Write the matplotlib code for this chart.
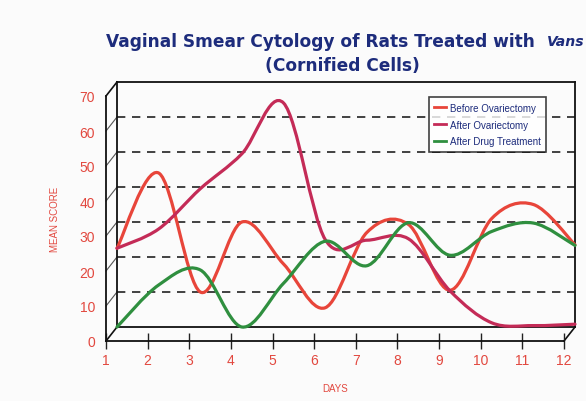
import matplotlib
matplotlib.use("Agg")
import matplotlib.pyplot as plt
from matplotlib.path import Path
from matplotlib.patches import PathPatch
from matplotlib.lines import Line2D

# ---- data ----
days = [1, 2, 3, 4, 5, 6, 7, 8, 9, 10, 11, 12]
before_ovx = [22.5, 44, 10, 30, 18, 5.5, 27, 29.3, 10.5, 31, 35, 23.5]
after_ovx = [22.5, 28, 39.5, 49.5, 64, 25, 24.8, 25.2, 10.3, 1.2, 0.4, 0.8]
after_drug = [0, 12, 16.3, 0, 12.5, 24.5, 17.5, 29.8, 20.5, 27.3, 29.7, 23.3]
series_labels = ["Before Ovariectomy", "After Ovariectomy", "After Drug Treatment"]
y_ticks = [0, 10, 20, 30, 40, 50, 60, 70]
title_line1 = "Vaginal Smear Cytology of Rats Treated with"
title_tail = "Vans"
title_line2 = "(Cornified Cells)"
x_label = "DAYS"
y_label = "MEAN SCORE"

colors = ["#e8453a", "#c42b57", "#2f8f3f"]
red_txt = "#e2483f"
navy = "#1d2c7c"

W, H = 586, 402
fig = plt.figure(figsize=(W / 100, H / 100), dpi=100)
fig.patch.set_facecolor("#fbfbfb")

# back wall (data plane) and front (axis) plane, offset to fake 3-D
bl, br, bt, bb = 117, 575, 83, 328
dx, dy = -11, 14
ax = fig.add_axes([bl / W, 1 - bb / H, (br - bl) / W, (bb - bt) / H])
axf = fig.add_axes([(bl + dx) / W, 1 - (bb + dy) / H, (br - bl) / W, (bb - bt) / H])
for a in (ax, axf):
    a.set_xlim(days[0], days[-1])
    a.set_ylim(y_ticks[0], y_ticks[-1])
    a.patch.set_alpha(0)
ax.set_zorder(3)
axf.set_zorder(2)

# back wall
for s in ax.spines.values():
    s.set_color("#111111")
    s.set_linewidth(1.3)
ax.set_xticks([])
ax.set_yticks([])
for v in y_ticks[1:-1]:
    ax.axhline(v, color="#222222", lw=1.2, ls=(0, (5, 4)), zorder=1)

# front axes
axf.spines["top"].set_visible(False)
axf.spines["right"].set_visible(False)
for s in ("left", "bottom"):
    axf.spines[s].set_color("#111111")
    axf.spines[s].set_linewidth(1.3)
axf.set_xticks(days)
axf.set_xticklabels([str(d) for d in days])
axf.set_yticks(y_ticks)
axf.set_yticklabels([str(v) for v in y_ticks])
axf.tick_params(axis="x", direction="inout", length=12, width=1.0, color="#222222",
                labelcolor=red_txt, labelsize=10, pad=3)
axf.tick_params(axis="y", length=0, labelcolor=red_txt, labelsize=10, pad=8)
for lab in axf.get_xticklabels() + axf.get_yticklabels():
    lab.set_family("Liberation Sans")
axf.set_xlabel(x_label, color=red_txt, fontsize=7, family="Liberation Sans", labelpad=11)
axf.set_ylabel(y_label, color=red_txt, fontsize=7, family="Liberation Sans", labelpad=14)


def to_fig(a, pt):
    p = a.transData.transform(pt)
    return fig.transFigure.inverted().transform(p)


def fig_line(p0, p1, **kw):
    fig.add_artist(Line2D([p0[0], p1[0]], [p0[1], p1[1]], transform=fig.transFigure, **kw))


# 3-D connectors
fig_line(to_fig(axf, (days[0], y_ticks[-1])), to_fig(ax, (days[0], y_ticks[-1])), color="#111111", lw=1.2)
fig_line(to_fig(axf, (days[0], 0)), to_fig(ax, (days[0], 0)), color="#111111", lw=1.2)
fig_line(to_fig(axf, (days[-1], 0)), to_fig(ax, (days[-1], 0)), color="#111111", lw=1.2)
for v in y_ticks[1:-1]:
    fig_line(to_fig(axf, (days[0], v)), to_fig(ax, (days[0], v)), color="#555555", lw=0.8)


# smoothed lines (Catmull-Rom style Bezier, as spreadsheet "smoothed line")
def smooth_path(xs, ys):
    pts = list(zip(xs, ys))
    n = len(pts)
    verts = [pts[0]]
    codes = [Path.MOVETO]
    for i in range(n - 1):
        p0 = pts[i - 1] if i > 0 else pts[i]
        p1 = pts[i]
        p2 = pts[i + 1]
        p3 = pts[i + 2] if i + 2 < n else pts[i + 1]
        c1 = (p1[0] + (p2[0] - p0[0]) / 6, p1[1] + (p2[1] - p0[1]) / 6)
        c2 = (p2[0] - (p3[0] - p1[0]) / 6, p2[1] - (p3[1] - p1[1]) / 6)
        verts += [c1, c2, p2]
        codes += [Path.CURVE4] * 3
    return Path(verts, codes)


for ys, c in zip([before_ovx, after_ovx, after_drug], colors):
    ax.add_patch(PathPatch(smooth_path(days, ys), facecolor="none", edgecolor=c,
                           lw=2.3, zorder=4, capstyle="round", joinstyle="round",
                           clip_on=False))

handles = [Line2D([], [], color=c, lw=2) for c in colors]
leg = ax.legend(handles, series_labels, loc="upper left", bbox_to_anchor=(0.681, 0.937),
                borderaxespad=0, frameon=True, fancybox=False,
                handlelength=1.2, handletextpad=0.4, labelspacing=0.7, borderpad=0.55,
                prop={"family": "Liberation Sans", "size": 7})
leg.get_frame().set_edgecolor("#111111")
leg.get_frame().set_linewidth(1.2)
leg.set_zorder(10)
for t in leg.get_texts():
    t.set_color(navy)

# title
t1 = fig.text(106 / W, 1 - 42 / H, title_line1, ha="left", va="center", color=navy,
              fontsize=12, fontweight="heavy", family="DejaVu Sans")
fig.canvas.draw()
r = fig.canvas.get_renderer()
w = t1.get_window_extent(r).width
fs = 12 * 428 / w
t1.set_fontsize(fs)
fig.text(585 / W, 1 - 42 / H, title_tail, ha="right", va="center", color=navy,
         fontsize=fs * 0.82, fontweight="heavy", style="italic", family="DejaVu Sans")
fig.text(342 / W, 1 - 66 / H, title_line2, ha="center", va="center", color=navy,
         fontsize=fs, fontweight="heavy", family="DejaVu Sans")

fig.savefig("out.png", dpi=100, facecolor=fig.get_facecolor())
